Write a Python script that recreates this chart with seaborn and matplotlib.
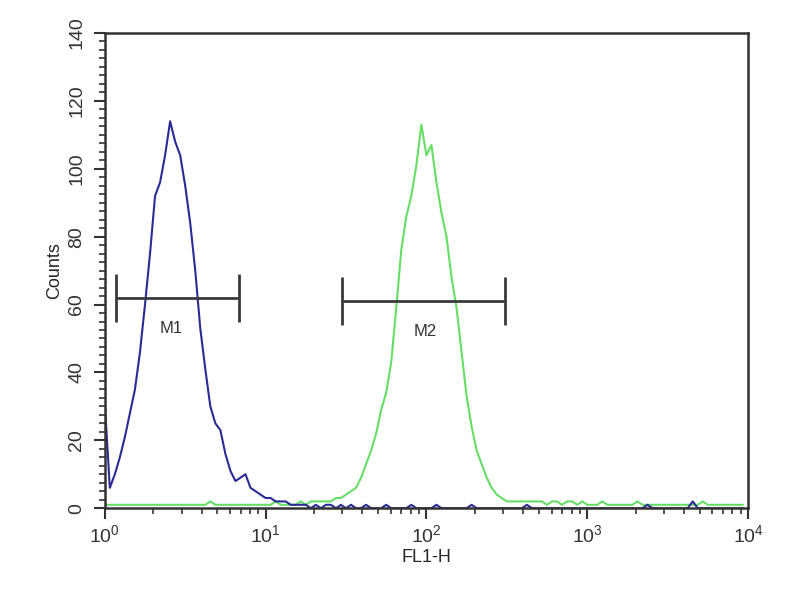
import numpy as np
import pandas as pd
import seaborn as sns
import matplotlib.pyplot as plt
from matplotlib.ticker import MultipleLocator, LogLocator

# counts per channel, 32 channels per decade from 10^0 to 10^4
blue_counts = [
    31, 6, 10, 15, 21, 28, 35, 46, 60, 75, 92, 96, 104, 114, 108, 104,
    95, 84, 70, 53, 41, 30, 25, 23, 16, 11, 8, 9, 10, 6, 5, 4,
    3, 3, 2, 2, 2, 1, 1, 1, 1, 0, 1, 0, 1, 1, 0, 1,
    0, 1, 0, 0, 1, 0, 0, 0, 1, 0, 0, 0, 0, 1, 0, 0,
    0, 0, 1, 0, 0, 0, 0, 0, 0, 1, 0, 0, 0, 0, 0, 0,
    0, 0, 0, 0, 1, 0, 0, 0, 0, 0, 0, 0, 0, 0, 0, 0,
    0, 0, 0, 0, 0, 0, 0, 0, 0, 0, 0, 0, 1, 0, 0, 0,
    0, 0, 0, 0, 0, 2, 0, 0, 0, 0, 0, 0, 0, 0, 0, 0,
]
green_counts = [
    1, 1, 1, 1, 1, 1, 1, 1, 1, 1, 1, 1, 1, 1, 1, 1,
    1, 1, 1, 1, 1, 2, 1, 1, 1, 1, 1, 1, 1, 1, 1, 1,
    1, 1, 2, 1, 1, 1, 1, 2, 1, 2, 2, 2, 2, 2, 3, 3,
    4, 5, 6, 9, 13, 17, 22, 29, 34, 43, 59, 76, 86, 92, 101, 113,
    104, 107, 96, 87, 80, 68, 59, 46, 33, 24, 17, 13, 9, 6, 4, 3,
    2, 2, 2, 2, 2, 2, 2, 2, 1, 2, 2, 1, 2, 2, 1, 2,
    1, 1, 1, 2, 1, 1, 1, 1, 1, 1, 2, 1, 1, 1, 1, 1,
    1, 1, 1, 1, 1, 1, 1, 2, 1, 1, 1, 1, 1, 1, 1, 1,
]
channels = 10 ** (np.arange(128) / 32)

# marker gates: name, low, high, level, label position
gate_names = ["M1", "M2"]
gate_low = [1.17, 30]
gate_high = [6.8, 310]
gate_level = [62, 61]
gate_label_x = [2.6, 98]
gate_label_y = [53, 52]

df = pd.DataFrame({"FL1-H": np.concatenate([channels, channels]),
                   "Counts": green_counts + blue_counts,
                   "sample": ["green"] * 128 + ["blue"] * 128})

sns.set_style("ticks")
plt.rcParams["font.family"] = ["Liberation Sans", "DejaVu Sans"]

fig = plt.figure(figsize=(8, 6), dpi=100)
ax = fig.add_axes([0.131, 0.153, 0.804, 0.792])

sns.lineplot(data=df[df["sample"] == "green"], x="FL1-H", y="Counts",
             color="#66dd66", lw=1.5, ax=ax)
sns.lineplot(data=df[df["sample"] == "blue"], x="FL1-H", y="Counts",
             color="#2b2b96", lw=1.5, ax=ax)

# gates
for name, lo, hi, lev, lx, ly in zip(gate_names, gate_low, gate_high, gate_level,
                                      gate_label_x, gate_label_y):
    ax.hlines(lev, lo, hi, color="#3a3a3a", lw=2)
    ax.vlines([lo, hi], lev - 7, lev + 7, color="#3a3a3a", lw=2)
    ax.text(lx, ly, name, ha="center", va="center", fontsize=12, color="#333333")

ax.set_xscale("log")
ax.set_xlim(1, 1e4)
ax.set_ylim(0, 140)
ax.yaxis.set_major_locator(MultipleLocator(20))
ax.yaxis.set_minor_locator(MultipleLocator(2.5))
ax.xaxis.set_minor_locator(LogLocator(base=10, subs=np.arange(2, 10)))

for s in ax.spines.values():
    s.set_linewidth(1.8)
    s.set_color("#333333")

ax.tick_params(axis="both", which="major", length=8, width=1.5, labelsize=14,
               colors="#333333")
ax.tick_params(axis="both", which="minor", length=4, width=1.2, colors="#333333")
ax.tick_params(axis="y", which="major", pad=6)
plt.setp(ax.get_yticklabels(), rotation=90, va="center")

ax.set_xlabel("FL1-H", fontsize=13, labelpad=2)
ax.set_ylabel("Counts", fontsize=13, labelpad=4)

fig.savefig("out.png", dpi=100)
